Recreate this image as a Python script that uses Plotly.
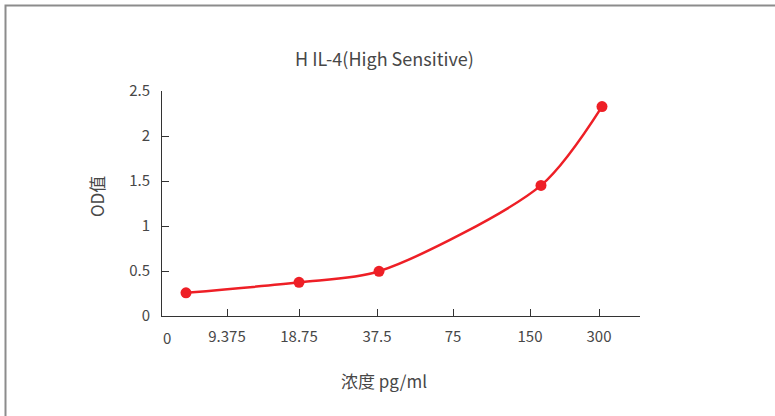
import plotly.graph_objects as go

# --- data ---
title_text = "H IL-4(High Sensitive)"
x_title = "浓度 pg/ml"
y_title = "OD值"
tick_labels = ["9.375", "18.75", "37.5", "75", "150", "300"]
tick_positions = [65, 137, 215, 291, 368, 437]   # axis position units
zero_label = "0"
point_positions = [24, 137, 217, 379, 440]       # axis position units
od_values = [0.257, 0.374, 0.497, 1.451, 2.327]
y_ticks = [0, 0.5, 1, 1.5, 2, 2.5]
y_tick_text = ["0", "0.5", "1", "1.5", "2", "2.5"]

FONT = "Noto Sans CJK SC"
TXT = "#474747"
RED = "#ee1f26"

W, H = 775, 416
L, R, T, B = 162, 135, 91, 100
pw, ph = W - L - R, H - T - B

def px_x(p):
    return (p - L) / pw

def px_y(p):
    return (H - B - p) / ph

fig = go.Figure()
fig.add_trace(go.Scatter(
    x=point_positions, y=od_values, mode="lines+markers",
    line=dict(color=RED, width=2.5, shape="spline", smoothing=0.8),
    marker=dict(color=RED, size=11),
    hoverinfo="skip", showlegend=False,
))

fig.update_layout(
    width=W, height=H,
    margin=dict(l=L, r=R, t=T, b=B),
    paper_bgcolor="white", plot_bgcolor="white",
    font=dict(family=FONT, color=TXT, size=15),
    xaxis=dict(
        range=[0, pw], tickvals=tick_positions, ticktext=tick_labels,
        showgrid=False, zeroline=False, showline=True, linecolor="#333333", linewidth=1,
        ticks="inside", ticklen=7, tickcolor="#333333",
        tickfont=dict(family=FONT, size=15, color=TXT), ticklabelstandoff=7,
    ),
    yaxis=dict(
        range=[0, 2.5], tickvals=y_ticks, ticktext=y_tick_text,
        showgrid=False, zeroline=False, showline=True, linecolor="#333333", linewidth=1,
        ticks="inside", ticklen=7, tickcolor="#333333",
        tickfont=dict(family=FONT, size=15, color=TXT), ticklabelstandoff=8,
    ),
    shapes=[dict(
        type="rect", xref="paper", yref="paper",
        x0=px_x(5.5), x1=px_x(W + 20), y0=px_y(H + 20), y1=px_y(5.5),
        line=dict(color="#8c8c8c", width=2), layer="below",
    )],
    annotations=[
        dict(text=title_text, xref="paper", yref="paper", x=px_x(384), y=px_y(58),
             showarrow=False, xanchor="center", yanchor="middle",
             font=dict(family=FONT, size=18, color=TXT)),
        dict(text=x_title, xref="paper", yref="paper", x=px_x(384), y=px_y(380),
             showarrow=False, xanchor="center", yanchor="middle",
             font=dict(family=FONT, size=17, color=TXT)),
        dict(text=y_title, xref="paper", yref="paper", x=px_x(96), y=px_y(197),
             showarrow=False, xanchor="center", yanchor="middle", textangle=-90,
             font=dict(family=FONT, size=17, color=TXT)),
        dict(text=zero_label, xref="paper", yref="paper", x=px_x(167), y=px_y(337),
             showarrow=False, xanchor="center", yanchor="middle",
             font=dict(family=FONT, size=15, color=TXT)),
    ],
)

fig.write_html(
    "out.html",
    config={"displayModeBar": False},
    post_script="document.body.style.margin='0px';document.body.style.overflow='hidden';",
)
